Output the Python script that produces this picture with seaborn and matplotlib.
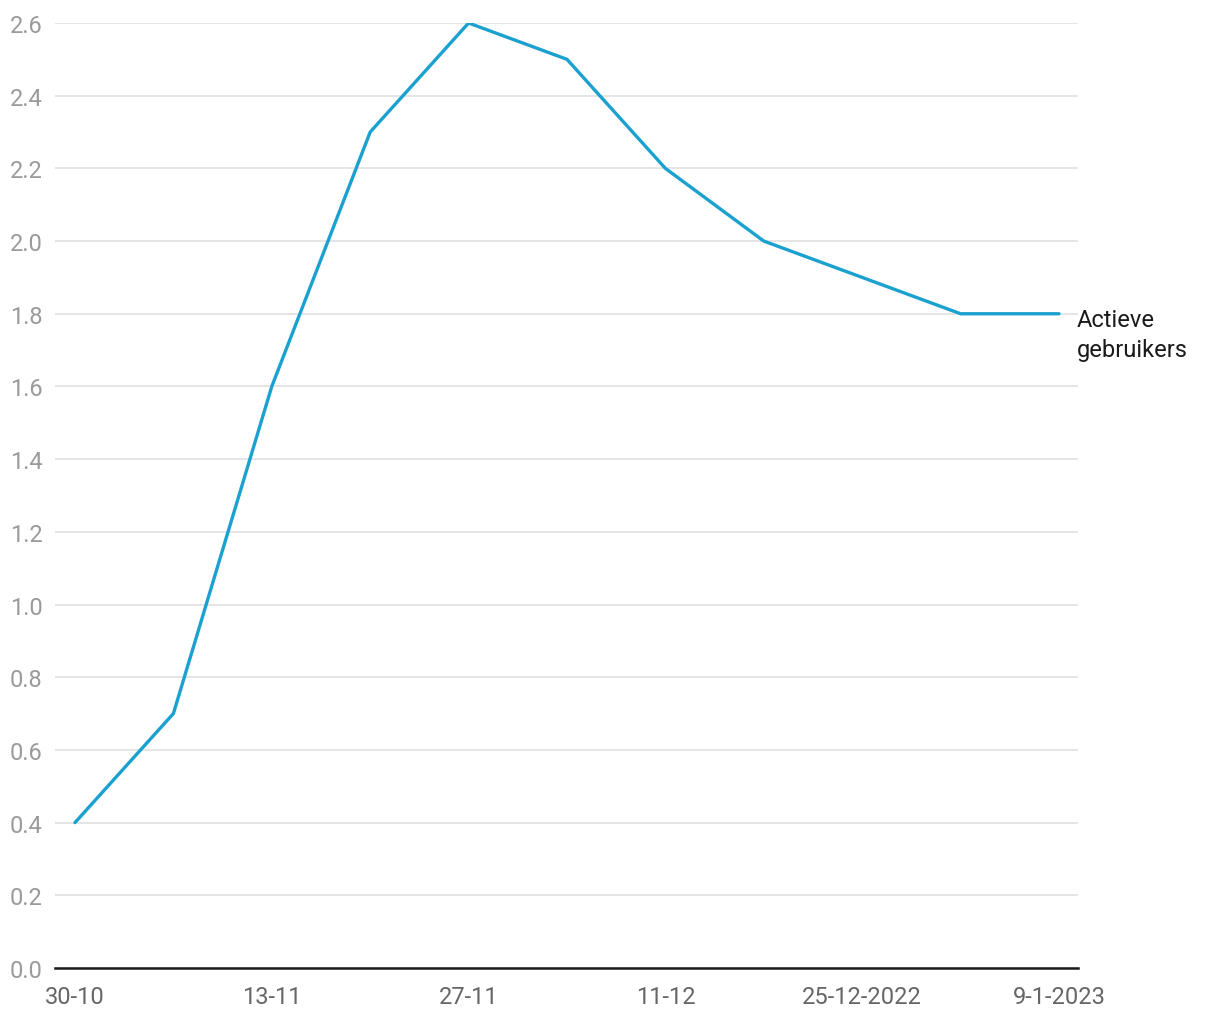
import matplotlib
matplotlib.use("Agg")
import matplotlib.pyplot as plt
import seaborn as sns
import pandas as pd

dates = ["30-10", "6-11", "13-11", "20-11", "27-11", "4-12", "11-12", "18-12", "25-12-2022", "2-1", "9-1-2023"]
values = [0.4, 0.7, 1.6, 2.3, 2.6, 2.5, 2.2, 2.0, 1.9, 1.8, 1.8]
tick_idx = [0, 2, 4, 6, 8, 10]
tick_labels = ["30-10", "13-11", "27-11", "11-12", "25-12-2022", "9-1-2023"]
yticks = [0.0, 0.2, 0.4, 0.6, 0.8, 1.0, 1.2, 1.4, 1.6, 1.8, 2.0, 2.2, 2.4, 2.6]
series_name = "Actieve\ngebruikers"

sns.set_theme(style="white")
plt.rcParams['font.family'] = ['Roboto', 'DejaVu Sans']

df = pd.DataFrame({"x": range(len(dates)), "y": values})

fig = plt.figure(figsize=(12.2, 10.2), dpi=100)
ax = fig.add_axes([55/1220, 1-969/1020, (1078-55)/1220, (969-24)/1020])
sns.lineplot(data=df, x="x", y="y", ax=ax, color="#1aa1d0", linewidth=2.4)

ax.set_xlim(-0.203, 10.193)
ax.set_ylim(0, 2.6)
ax.set_yticks(yticks)
ax.set_yticklabels([f"{v:.1f}" for v in yticks])
ax.set_xticks(tick_idx)
ax.set_xticklabels(tick_labels)
ax.grid(axis="y", color="#e0e0e0", linewidth=1.2)
ax.grid(axis="x", visible=False)
ax.set_axisbelow(True)
for s in ["top", "right", "left"]:
    ax.spines[s].set_visible(False)
ax.spines["bottom"].set_color("#1a1a1a")
ax.spines["bottom"].set_linewidth(1.8)
ax.spines["bottom"].set_zorder(3)
ax.tick_params(axis="y", length=0, pad=9, labelsize=17, labelcolor="#9a9a9a")
ax.tick_params(axis="x", length=0, pad=12, labelsize=17, labelcolor="#666666")
ax.set_xlabel("")
ax.set_ylabel("")

ax.annotate(series_name, xy=(len(dates)-1, values[-1]), xytext=(13, 4), textcoords="offset points",
            ha="left", va="top", fontsize=17, color="#1a1a1a", annotation_clip=False, linespacing=1.38)

fig.savefig("out.png", dpi=100)
